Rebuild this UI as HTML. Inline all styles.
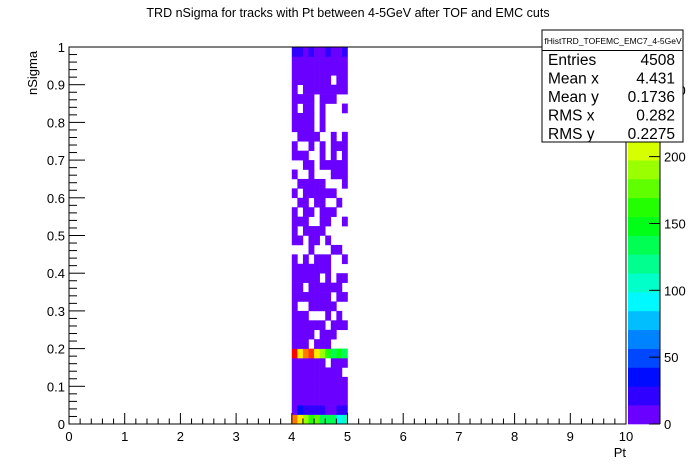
<!DOCTYPE html>
<html><head><meta charset="utf-8"><style>
body{margin:0;background:#fff;}
svg{display:block;font-family:"Liberation Sans",sans-serif;}
</style></head><body>
<svg id="c" width="696" height="472" viewBox="0 0 696 472">
<text x="348" y="17" font-size="12.5" text-anchor="middle">TRD nSigma for tracks with Pt between 4-5GeV after TOF and EMC cuts</text>
<g id="cells"></g>
<rect x="69" y="47" width="557" height="377" fill="none" stroke="#000" stroke-width="1"/>
<g id="axes"></g>
<text x="626" y="457" font-size="13" text-anchor="end">Pt</text>
<text transform="translate(37,95) rotate(-90)" font-size="13">nSigma</text>
<g id="pal"></g>
<g id="stats">
<rect x="542" y="30" width="141" height="112" fill="#fff" stroke="#000"/>
<line x1="542" y1="50.5" x2="683" y2="50.5" stroke="#000"/>
<text x="613" y="44" font-size="8.5" text-anchor="middle">fHistTRD_TOFEMC_EMC7_4-5GeV</text>
<text x="548" y="65" font-size="15.5">Entries</text><text x="675" y="65" font-size="15.5" text-anchor="end">4508</text>
<text x="548" y="83.5" font-size="15.5">Mean x</text><text x="675" y="83.5" font-size="15.5" text-anchor="end">4.431</text>
<text x="548" y="102" font-size="15.5">Mean y</text><text x="675" y="102" font-size="15.5" text-anchor="end">0.1736</text>
<text x="548" y="120.5" font-size="15.5">RMS x</text><text x="675" y="120.5" font-size="15.5" text-anchor="end">0.282</text>
<text x="548" y="139" font-size="15.5">RMS y</text><text x="675" y="139" font-size="15.5" text-anchor="end">0.2275</text>
</g>
</svg>
<script>
const xMin=0,xMax=10,yMin=0,yMax=1,zMax=282;
const xBinStart=4.0,xBinWidth=0.1,yBinWidth=0.025;
const xTicks=[0,1,2,3,4,5,6,7,8,9,10];
const yTicks=[0,0.1,0.2,0.3,0.4,0.5,0.6,0.7,0.8,0.9,1];
const yTickLabels=["0","0.1","0.2","0.3","0.4","0.5","0.6","0.7","0.8","0.9","1"];
const zTicks=[0,50,100,150,200,250];
// special rows (y bin index)
const row0=[245,218,197,165,175,133,133,133,90,112];
const row1=[8,32,16,16,16,16,8,8,16,16];
const row7=[280,218,245,255,218,197,165,133,150,133];
const row39=[16,16,5,16,5,5,16,5,5,16];
// occupancy rows, bins 38 down to 8 (# = ~5 entries)
const occRows=[
"##########","##########","#######.##","#.########","####.###..",
"#.##.#...#","####.#....","####.#....",".####..#.#","#..#.#.###",
"###..#.#.#","..##.#####","#..#...###",".#####...#","#.######..",
".##.##..#.","#.##.###..","###..##..#","#.####....","##.##.#...",
"...#...##.","#.#.###..#","#######...","#####.#.##","##.######.",
"#######.##","#..#####..","###...#.#.","######.###","####.###..",
"###.###..."
];
// bins 6 down to 2
const lowRows=["######.###","#########.","##########","##########","##########"];
const NS="http://www.w3.org/2000/svg";
const L=69,R=626,T=47,B=424;
const sx=v=>L+(v-xMin)/(xMax-xMin)*(R-L);
const sy=v=>B-(v-yMin)/(yMax-yMin)*(B-T);
const sz=v=>B-v/zMax*(B-T);
const NB=20;
function colorFor(z){
  let b=Math.min(NB-1,Math.floor(z/zMax*NB));
  const f=b/(NB-1);
  const h=265*(1-f);
  return "hsl("+h+",100%,50%)";
}
function mk(tag,attrs,parent){const e=document.createElementNS(NS,tag);for(const k in attrs)e.setAttribute(k,attrs[k]);parent.appendChild(e);return e;}
const grid={};
grid[0]=row0;grid[1]=row1;grid[7]=row7;grid[39]=row39;
occRows.forEach((s,i)=>{grid[38-i]=s.split("").map(c=>c==="#"?5:0);});
lowRows.forEach((s,i)=>{grid[6-i]=s.split("").map(c=>c==="#"?5:0);});
const cells=document.getElementById("cells");
for(const r in grid){
  grid[r].forEach((v,ci)=>{
    if(v<=0)return;
    const x0=xBinStart+ci*xBinWidth, y0=r*yBinWidth;
    const x1=sx(x0),x2=sx(x0+xBinWidth),y1=sy(y0+yBinWidth),y2=sy(y0);
    const el=mk("rect",{x:x1,y:y1,width:x2-x1+0.3,height:y2-y1+0.3,fill:colorFor(v)},cells);
    
    
  });
}
const ax=document.getElementById("axes");
xTicks.forEach((t,i)=>{
  mk("line",{x1:sx(t),x2:sx(t),y1:B,y2:B-11,stroke:"#000"},ax);
  const tx=mk("text",{x:sx(t),y:B+17,"font-size":13,"text-anchor":"middle"},ax);tx.textContent=String(t);
  
  
  if(i<xTicks.length-1)for(let k=1;k<5;k++){const m=t+k*0.2;mk("line",{x1:sx(m),x2:sx(m),y1:B,y2:B-5.5,stroke:"#000"},ax);}
});
yTicks.forEach((t,i)=>{
  mk("line",{x1:L,x2:L+16,y1:sy(t),y2:sy(t),stroke:"#000"},ax);
  const tx=mk("text",{x:L-4,y:sy(t)+5,"font-size":13,"text-anchor":"end"},ax);tx.textContent=yTickLabels[i];
  
  
  if(i<yTicks.length-1)for(let k=1;k<5;k++){const m=t+k*0.02;mk("line",{x1:L,x2:L+8,y1:sy(m),y2:sy(m),stroke:"#000"},ax);}
});
const pal=document.getElementById("pal");
const PL=628,PR=660;
for(let b=0;b<NB;b++){
  const z0=b*zMax/NB,z1=(b+1)*zMax/NB;
  const el=mk("rect",{x:PL,y:sz(z1),width:PR-PL,height:sz(z0)-sz(z1)+0.3,fill:colorFor(z0+0.1)},pal);
  
  
}
zTicks.forEach(t=>{
  mk("line",{x1:PR-11,x2:PR,y1:sz(t),y2:sz(t),stroke:"#000"},pal);
  const tx=mk("text",{x:PR+4,y:sz(t)+5,"font-size":13},pal);tx.textContent=String(t);
  
  
});
mk("line",{x1:PR,x2:PR,y1:T,y2:B,stroke:"#000"},pal);
document.getElementById("c").appendChild(document.getElementById("stats"));
</script>
</body></html>
